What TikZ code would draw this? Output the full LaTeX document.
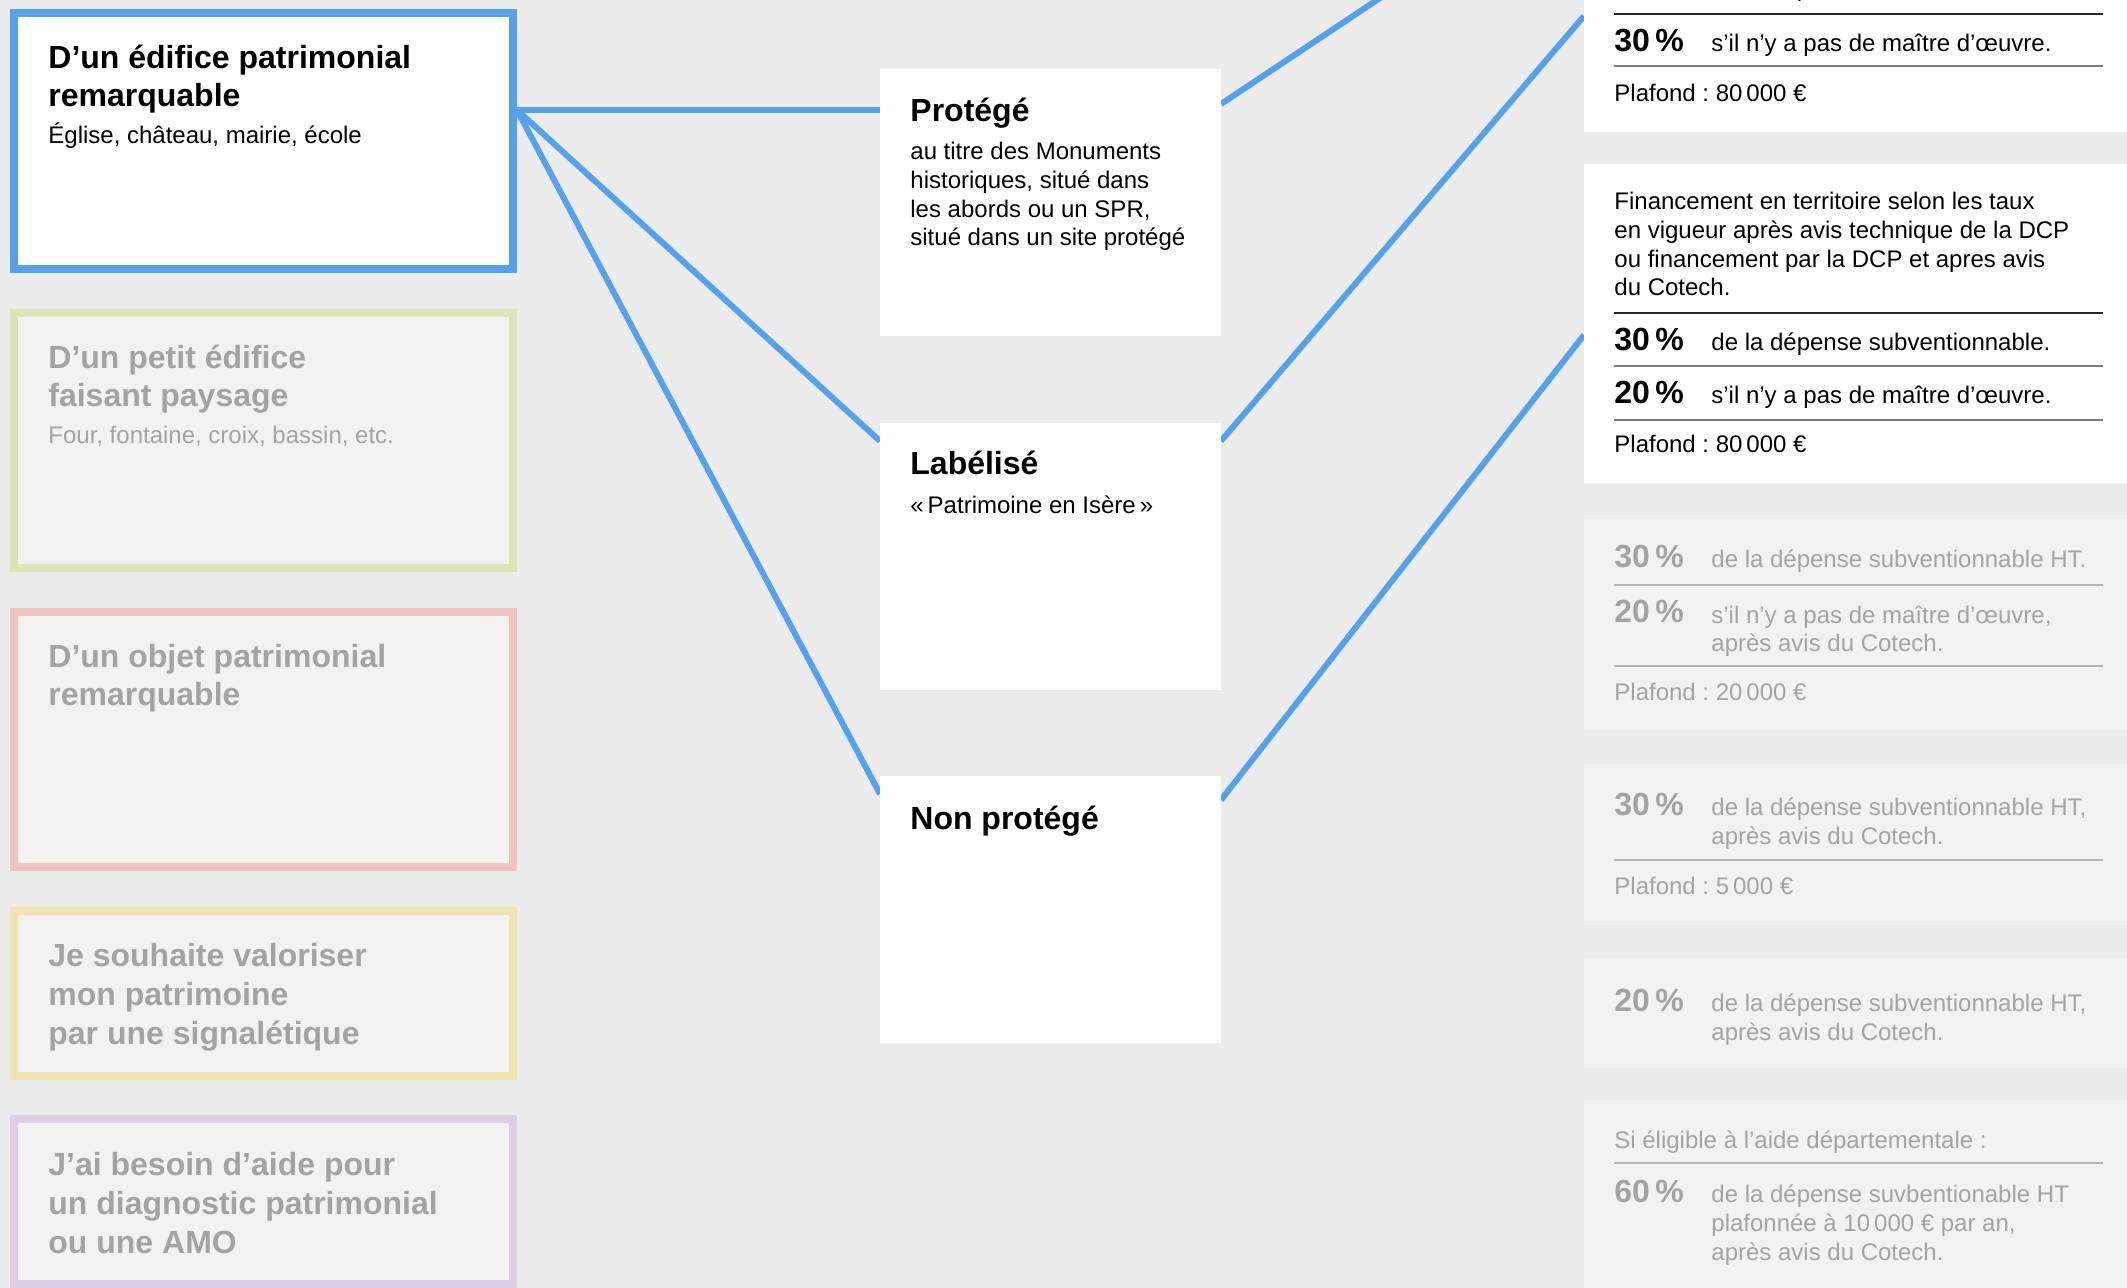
\documentclass[tikz,border=0pt]{standalone}
\usepackage{fontspec}
\setmainfont{Liberation Sans}
\frenchspacing
\usetikzlibrary{positioning, backgrounds}

\definecolor{canvas}{RGB}{236,236,236}
\definecolor{panel}{RGB}{242,242,242}
\definecolor{linkblue}{RGB}{85,161,236}
\definecolor{dimtext}{RGB}{163,163,163}
\definecolor{rulegray}{RGB}{125,125,125}
\definecolor{dimrule}{RGB}{180,180,180}
\definecolor{edgegreen}{RGB}{220,229,183}
\definecolor{edgered}{RGB}{240,196,190}
\definecolor{edgeyellow}{RGB}{242,228,178}
\definecolor{edgepurple}{RGB}{221,206,232}

\begin{document}
\begin{tikzpicture}[
    x=0.5pt, y=-0.5pt,
    choice/.style={draw, line width=4pt, fill=panel, inner sep=0pt, outer sep=0pt, anchor=north west, minimum width=249.5pt},
    stage/.style={fill=white, inner sep=0pt, outer sep=0pt, anchor=north west, minimum width=170.5pt, minimum height=133.5pt},
    rate/.style={fill=white, inner sep=0pt, outer sep=0pt, anchor=north west, minimum width=280pt},
    head/.style={font=\fontsize{16pt}{19.4pt}\selectfont\bfseries, anchor=base west, align=left, inner sep=0pt},
    body/.style={font=\fontsize{12pt}{14.4pt}\selectfont, anchor=base west, align=left, inner sep=0pt},
    pct/.style={font=\fontsize{16pt}{19.4pt}\selectfont\bfseries, anchor=base west, inner sep=0pt},
    dim/.style={text=dimtext},
    rule/.style={draw=rulegray, line width=0.6pt},
    darkrule/.style={draw=black!85, line width=0.6pt},
    dimrule/.style={draw=dimrule, line width=0.6pt},
    link/.style={draw=linkblue, line width=3pt}
]
    \useasboundingbox (0,0) rectangle (2127,1288);
    \clip (0,0) rectangle (2127,1288);

    % Left column: what is the project about
    % (multi-line texts are placed by the baseline of their last line)
    \node[choice, draw=linkblue, fill=white, minimum height=128pt] (edifice) at (14,13) {};
    \node[choice, draw=edgegreen, minimum height=127.5pt] (petit) at (14,313) {};
    \node[choice, draw=edgered, minimum height=127.5pt] (objet) at (14,612) {};
    \node[choice, draw=edgeyellow, minimum height=82.5pt] (signal) at (14,911) {};
    \node[choice, draw=edgepurple, minimum height=82.5pt] (diag) at (14,1119) {};

    \node[head] (edifice_t) at (48,107) {D’un édifice patrimonial\\remarquable};
    \node[body] (edifice_s) at (48,144) {Église, château, mairie, école};
    \node[head, dim] (petit_t) at (48,407) {D’un petit édifice\\faisant paysage};
    \node[body, dim] (petit_s) at (48,444) {Four, fontaine, croix, bassin, etc.};
    \node[head, dim] (objet_t) at (48,706) {D’un objet patrimonial\\remarquable};
    \node[head, dim] (signal_t) at (48,1044) {Je souhaite valoriser\\mon patrimoine\\par une signalétique};
    \node[head, dim] (diag_t) at (48,1253) {J’ai besoin d’aide pour\\un diagnostic patrimonial\\ou une AMO};

    % Middle column: status of the building
    \node[stage] (prot) at (880,69) {};
    \node[stage] (lab) at (880,423) {};
    \node[stage] (nonp) at (880,776) {};

    \node[head] (prot_t) at (910,122) {Protégé};
    \node[body] (prot_s) at (910,246) {au titre des Monuments\\historiques, situé dans\\les abords ou un SPR,\\situé dans un site protégé};
    \node[head] (lab_t) at (910,475) {Labélisé};
    \node[body] (lab_s) at (910,514) {«\,Patrimoine en Isère\,»};
    \node[head] (nonp_t) at (910,829) {Non protégé};

    % Right column: funding rates
    \node[rate, anchor=south west, minimum height=150pt] (rateA) at (1584,132) {};
    \node[rate, minimum height=159.5pt] (rateB) at (1584,164) {};
    \node[rate, fill=panel, minimum height=107.5pt] (rateC) at (1584,515) {};
    \node[rate, fill=panel, minimum height=80.5pt] (rateD) at (1584,764) {};
    \node[rate, fill=panel, minimum height=55pt] (rateE) at (1584,958) {};
    \node[rate, fill=panel, minimum height=100pt] (rateF) at (1584,1100) {};

    % rate A (cut at the top)
    \node[body] (a1_t) at (1711,-3) {de la dépense subventionnable.};
    \draw[darkrule] (1614,14) -- (2103,14);
    \node[pct] (a2_p) at (1614,52) {30\,\%};
    \node[body] (a2_t) at (1711,52) {s’il n’y a pas de maître d’œuvre.};
    \draw[rule] (1614,66) -- (2103,66);
    \node[body] (a_cap) at (1614,102) {Plafond : 80\,000 €};

    % rate B
    \node[body] (b_intro) at (1614,296) {Financement en territoire selon les taux\\en vigueur après avis technique de la DCP\\ou financement par la DCP et apres avis\\du Cotech.};
    \draw[darkrule] (1614,313) -- (2103,313);
    \node[pct] (b1_p) at (1614,351) {30\,\%};
    \node[body] (b1_t) at (1711,351) {de la dépense subventionnable.};
    \draw[rule] (1614,366) -- (2103,366);
    \node[pct] (b2_p) at (1614,404) {20\,\%};
    \node[body] (b2_t) at (1711,404) {s’il n’y a pas de maître d’œuvre.};
    \draw[rule] (1614,420) -- (2103,420);
    \node[body] (b_cap) at (1614,453) {Plafond : 80\,000 €};

    % rate C
    \node[pct, dim] (c1_p) at (1614,568) {30\,\%};
    \node[body, dim] (c1_t) at (1711,568) {de la dépense subventionnable HT.};
    \draw[dimrule] (1614,585) -- (2103,585);
    \node[pct, dim] (c2_p) at (1614,623) {20\,\%};
    \node[body, dim] (c2_t) at (1711,652) {s’il n’y a pas de maître d’œuvre,\\après avis du Cotech.};
    \draw[dimrule] (1614,666) -- (2103,666);
    \node[body, dim] (c_cap) at (1614,701) {Plafond : 20\,000 €};

    % rate D
    \node[pct, dim] (d1_p) at (1614,815) {30\,\%};
    \node[body, dim] (d1_t) at (1711,844) {de la dépense subventionnable HT,\\après avis du Cotech.};
    \draw[dimrule] (1614,860) -- (2103,860);
    \node[body, dim] (d_cap) at (1614,894) {Plafond : 5\,000 €};

    % rate E
    \node[pct, dim] (e1_p) at (1614,1011) {20\,\%};
    \node[body, dim] (e1_t) at (1711,1040) {de la dépense subventionnable HT,\\après avis du Cotech.};

    % rate F
    \node[body, dim] (f_intro) at (1614,1148) {Si éligible à l’aide départementale :};
    \draw[dimrule] (1614,1163) -- (2103,1163);
    \node[pct, dim] (f1_p) at (1614,1202) {60\,\%};
    \node[body, dim] (f1_t) at (1711,1260) {de la dépense suvbentionable HT\\plafonnée à 10\,000 € par an,\\après avis du Cotech.};

    % Connectors behind the boxes
    \begin{pgfonlayer}{background}
        \fill[canvas] (0,0) rectangle (2127,1288);
        \coordinate (hub) at (517,110);
        \coordinate (offtop) at (1407,-20);
        \draw[link] (hub) -- (hub -| prot.west);
        \draw[link] (hub) -- ([yshift=-9pt]lab.north west);
        \draw[link] (hub) -- ([yshift=-9pt]nonp.north west);
        \draw[link] ([yshift=-17.5pt]prot.north east) -- (offtop);
        \draw[link] ([yshift=-9pt]lab.north east) -- ([yshift=58pt]rateA.south west);
        \draw[link] ([yshift=-12pt]nonp.north east) -- ([yshift=-85.5pt]rateB.north west);
    \end{pgfonlayer}
\end{tikzpicture}
\end{document}
